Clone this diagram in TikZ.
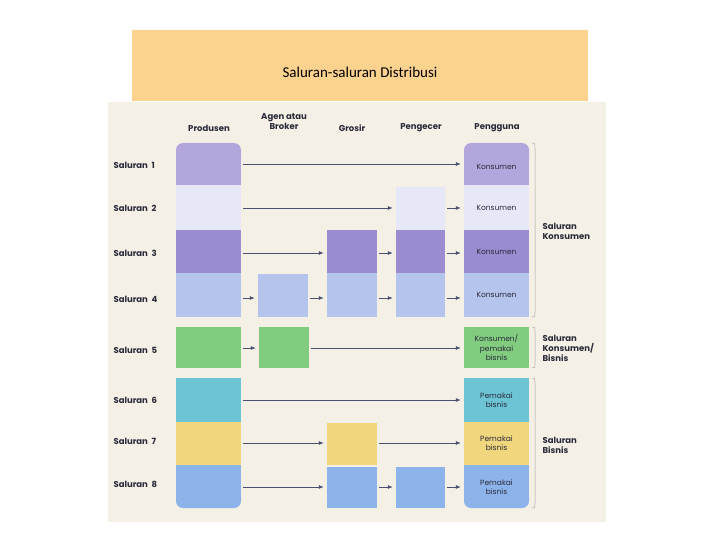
\documentclass[tikz,border=0pt]{standalone}
\usepackage{fontspec}
\usetikzlibrary{arrows.meta}
\setmainfont{Poppins}
\newfontfamily\titlefont{Carlito}
\definecolor{bg}{HTML}{F4F0E6}
\definecolor{ttl}{HTML}{FBD38E}
\definecolor{ca}{HTML}{B3A6DC}
\definecolor{cb}{HTML}{E6E8F8}
\definecolor{cc}{HTML}{9B8BCF}
\definecolor{cd}{HTML}{B4C4EC}
\definecolor{ce}{HTML}{82CC80}
\definecolor{cf}{HTML}{6CC4D4}
\definecolor{cg}{HTML}{F0D67C}
\definecolor{ch}{HTML}{8DB4EA}
\definecolor{arr}{HTML}{4A5070}
\definecolor{txt}{HTML}{2A2A3A}
\newcommand{\bx}[7]{\node[box,fill=#6,minimum width={(#4-#2)*1pt},minimum height={(#5-#3)*1pt},#7] (#1) at ({(#2+#4)/2},{(#3+#5)/2}) {};}
\begin{document}
\begin{tikzpicture}[x=1pt,y=-1pt,
  box/.style={draw=none,inner sep=0pt,font=\fontsize{7.5}{9}\selectfont\color{txt},align=center},
  lbl/.style={font=\bfseries\fontsize{8.5}{10}\selectfont\color{txt},anchor=west,align=left},
  hd/.style={font=\bfseries\fontsize{8.5}{10}\selectfont\color{txt},align=center},
  ar/.style={draw=arr,line width=0.8pt,-{Latex[length=5pt,width=4pt]},shorten <=2pt,shorten >=3pt},
  br/.style={draw=gray!70,line width=0.5pt}]
\useasboundingbox (0,0) rectangle (720,540);
\fill[white] (0,0) rectangle (720,540);
\fill[bg] (108,102) rectangle (606,522);
\node[fill=ttl,minimum width=456pt,minimum height=71pt,inner sep=0pt] (title) at (360,66) {};
\node[font=\titlefont\fontsize{15}{18}\selectfont] (tt) at (360,72) {Saluran-saluran Distribusi};
% headers
\node[hd] (h1) at (209,128) {Produsen};
\node[hd] (h2) at (284,122) {Agen atau\\Broker};
\node[hd] (h3) at (352,128) {Grosir};
\node[hd] (h4) at (421,128) {Pengecer};
\node[hd] (h5) at (497,128) {Pengguna};
% row labels
\foreach \n/\y in {1/165,2/208,3/253,4/299,5/350,6/400,7/441,8/484}
  \node[lbl] (s\n) at (110,\y) {Saluran\ \ \n};
% producer column
\fill[ca,rounded corners=7pt] (176,143) rectangle (241,165);
\bx{p1}{176}{150}{241}{185}{ca}{}
\bx{p2}{176}{185}{241}{230}{cb}{}
\bx{p3}{176}{230}{241}{273}{cc}{}
\bx{p4}{176}{273}{241}{317}{cd}{}
\bx{p5}{176}{327}{241}{368}{ce}{}
\bx{p6}{176}{378}{241}{422}{cf}{}
\bx{p7}{176}{422}{241}{465}{cg}{}
\fill[ch,rounded corners=7pt] (176,490) rectangle (241,508);
\bx{p8}{176}{465}{241}{500}{ch}{}
% consumer column
\fill[ca,rounded corners=7pt] (464,143) rectangle (529,165);
\node[box,fill=ca,minimum width=65pt,minimum height=35pt] (u1) at (496.5,167.5) {};
\node[box] (u1t) at (496.5,167) {Konsumen};
\node[box,fill=cb,minimum width=65pt,minimum height=45pt] (u2) at (496.5,207.5) {Konsumen};
\node[box,fill=cc,minimum width=65pt,minimum height=43pt] (u3) at (496.5,251.5) {Konsumen};
\node[box,fill=cd,minimum width=65pt,minimum height=44pt] (u4) at (496.5,295) {Konsumen};
\node[box,fill=ce,minimum width=65pt,minimum height=41pt] (u5) at (496.5,347.5) {Konsumen/\\pemakai\\bisnis};
\node[box,fill=cf,minimum width=65pt,minimum height=44pt] (u6) at (496.5,400) {Pemakai\\bisnis};
\node[box,fill=cg,minimum width=65pt,minimum height=43pt] (u7) at (496.5,443.5) {Pemakai\\bisnis};
\fill[ch,rounded corners=7pt] (464,490) rectangle (529,508);
\node[box,fill=ch,minimum width=65pt,minimum height=35pt] (u8) at (496.5,482.5) {};
\node[box] (u8t) at (496.5,487) {Pemakai\\bisnis};
% middle boxes
\bx{r2}{396}{187}{445}{230}{cb}{}
\bx{g3}{327}{230}{377}{273}{cc}{}
\bx{r3}{396}{230}{445}{273}{cc}{}
\bx{a4}{258}{274}{308}{317}{cd}{}
\bx{g4}{327}{273}{377}{317}{cd}{}
\bx{r4}{396}{273}{445}{317}{cd}{}
\bx{a5}{259}{327}{309}{368}{ce}{}
\bx{g7}{327}{423}{377}{465}{cg}{}
\bx{g8}{327}{467}{377}{508}{ch}{}
\bx{r8}{396}{467}{445}{508}{ch}{}
% arrows
\draw[ar] (p1.east|-0,164) -- (u1.west|-0,164);
\draw[ar] (p2.east|-0,208) -- (r2.west|-0,208);
\draw[ar] (r2.east|-0,208) -- (u2.west|-0,208);
\draw[ar] (p3.east|-0,253) -- (g3.west|-0,253);
\draw[ar] (g3.east|-0,253) -- (r3.west|-0,253);
\draw[ar] (r3.east|-0,253) -- (u3.west|-0,253);
\draw[ar] (p4.east|-0,298) -- (a4.west|-0,298);
\draw[ar] (a4.east|-0,298) -- (g4.west|-0,298);
\draw[ar] (g4.east|-0,298) -- (r4.west|-0,298);
\draw[ar] (r4.east|-0,298) -- (u4.west|-0,298);
\draw[ar] (p5.east|-0,348) -- (a5.west|-0,348);
\draw[ar] (a5.east|-0,348) -- (u5.west|-0,348);
\draw[ar] (p6.east|-0,400) -- (u6.west|-0,400);
\draw[ar] (p7.east|-0,443) -- (g7.west|-0,443);
\draw[ar] (g7.east|-0,443) -- (u7.west|-0,443);
\draw[ar] (p8.east|-0,487) -- (g8.west|-0,487);
\draw[ar] (g8.east|-0,487) -- (r8.west|-0,487);
\draw[ar] (r8.east|-0,487) -- (u8.west|-0,487);
% brackets
\draw[br] (532,143) .. controls (535,143) .. (535,150) -- (535,310) .. controls (535,317) .. (532,317);
\draw[br] (532,327) .. controls (535,327) .. (535,332) -- (535,363) .. controls (535,368) .. (532,368);
\draw[br] (532,378) .. controls (535,378) .. (535,385) -- (535,501) .. controls (535,508) .. (532,508);
\node[lbl] (k1) at (539,231) {Saluran\\Konsumen};
\node[lbl] (k2) at (539,348) {Saluran\\Konsumen/\\Bisnis};
\node[lbl] (k3) at (539,445) {Saluran\\Bisnis};
\end{tikzpicture}
\end{document}
